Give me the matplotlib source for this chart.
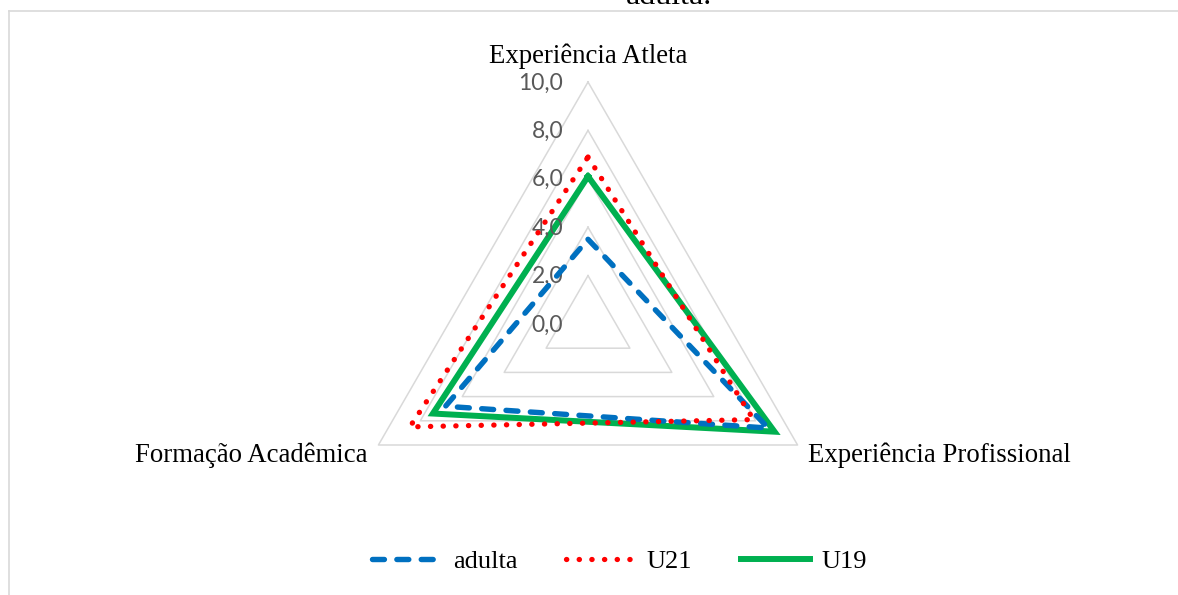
import numpy as np
import matplotlib.pyplot as plt
from matplotlib.lines import Line2D

plt.rcParams['font.family'] = ['Liberation Serif', 'DejaVu Serif']

categories = ["Experiência Atleta", "Experiência Profissional", "Formação Acadêmica"]
adulta = [3.5, 8.6, 6.8]
u21 = [6.9, 7.9, 8.5]
u19 = [6.1, 8.9, 7.4]
levels = [2, 4, 6, 8, 10]
level_labels = ["0,0", "2,0", "4,0", "6,0", "8,0", "10,0"]

W, H = 1178, 595
cx, cy = 588, 324          # centre of the radar, pixels from top-left
px = 24.2                  # pixels per unit of value

fig = plt.figure(figsize=(W / 100, H / 100), dpi=100)
ax = fig.add_axes([0, 0, 1, 1])
ax.set_xlim(-cx / px, (W - cx) / px)
ax.set_ylim(-(H - cy) / px, cy / px)
ax.axis('off')

# clockwise from the top
angles = np.deg2rad([90, -30, 210])


def ring(vals):
    v = np.asarray(vals, dtype=float)
    x = v * np.cos(angles)
    y = v * np.sin(angles)
    return np.append(x, x[0]), np.append(y, y[0])


for lv in levels:
    gx, gy = ring([lv] * 3)
    ax.plot(gx, gy, color='#D9D9D9', lw=1.1, zorder=1)

# radial value labels along the top spoke
for i, lab in enumerate(level_labels):
    ax.text(-1.03, i * 2 - 0.31, lab, ha='right', va='baseline',
            fontsize=16.5, color='#595959', family=['Lato', 'DejaVu Sans'])

x, y = ring(adulta)
l1, = ax.plot(x, y, color='#0070C0', lw=3.9, dashes=(2.2, 2.3),
              dash_capstyle='round', solid_joinstyle='round', label='adulta', zorder=3)
x, y = ring(u21)
l2, = ax.plot(x, y, color='#FF0000', lw=3.8, dashes=(0.05, 2.35),
              dash_capstyle='round', label='U21', zorder=3)
x, y = ring(u19)
l3, = ax.plot(x, y, color='#00B050', lw=4.3, solid_joinstyle='miter',
              label='U19', zorder=2)

# category labels
ax.text(0, (cy - 63) / px, categories[0], ha='center', va='baseline', fontsize=19.3)
ax.text((808 - cx) / px, (cy - 462) / px, categories[1], ha='left', va='baseline', fontsize=19.3)
ax.text((368 - cx) / px, (cy - 462) / px, categories[2], ha='right', va='baseline', fontsize=19.3)

# title, mostly cut off by the top edge
fig.text(669 / W, 1 - 4 / H, "adulta.", ha='center', va='baseline', fontsize=23)

fig.legend(handles=[l1, l2, l3], loc='center', bbox_to_anchor=(0.526, 1 - 561 / H),
           ncol=3, frameon=False, fontsize=19, handlelength=2.6,
           handletextpad=0.45, columnspacing=1.85)

# chart area border
fig.add_artist(Line2D([8.5 / W, 8.5 / W], [0, 1 - 11 / H], color='#D9D9D9', lw=1.2))
fig.add_artist(Line2D([8.5 / W, 1], [1 - 11 / H, 1 - 11 / H], color='#D9D9D9', lw=1.2))

fig.savefig('out.png', dpi=100, facecolor='white')
